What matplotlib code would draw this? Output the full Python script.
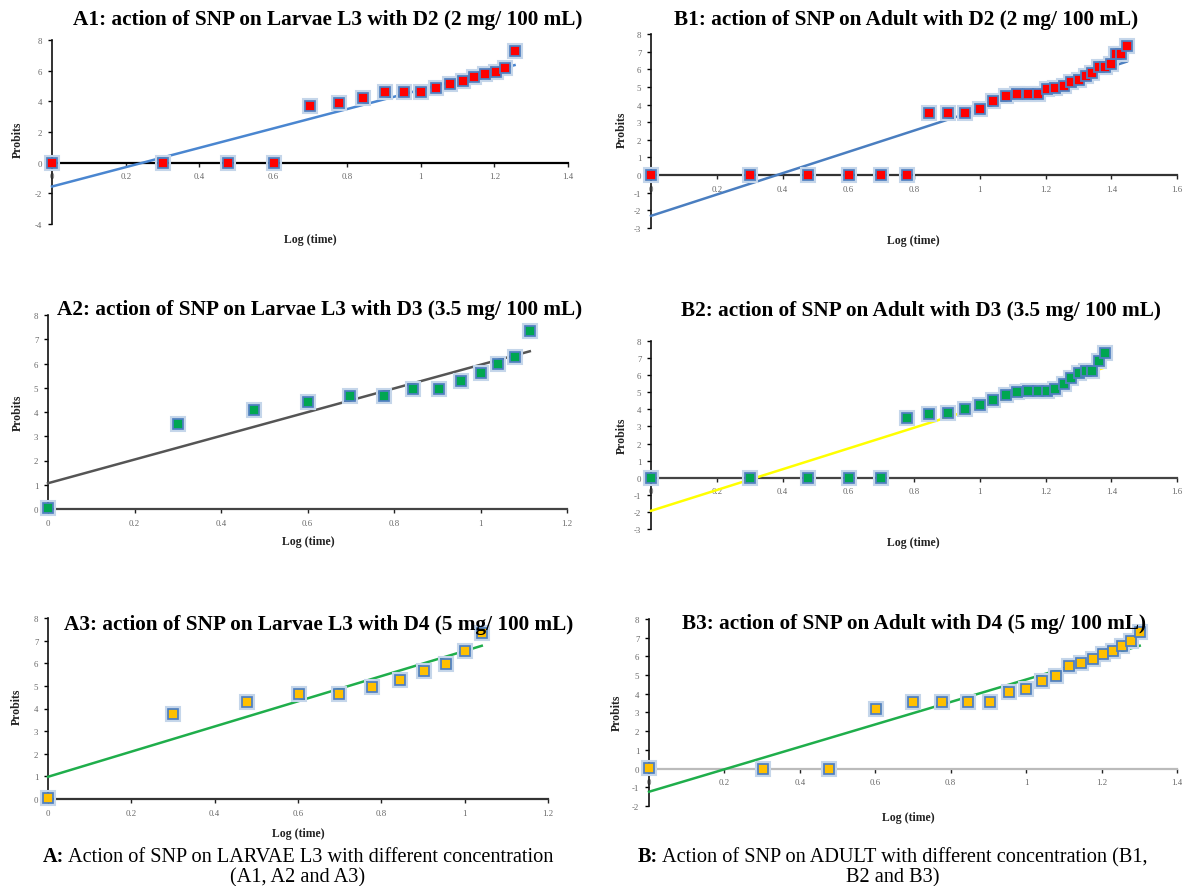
import numpy as np
import matplotlib
matplotlib.use("Agg")
import matplotlib.pyplot as plt

plt.rcParams["axes.unicode_minus"] = False
W, H = 1182, 887

# ---------------- data ----------------
log_time = [0.000, 0.301, 0.477, 0.602, 0.699, 0.778, 0.845, 0.903, 0.954, 1.000,
            1.041, 1.079, 1.114, 1.146, 1.176, 1.204, 1.230, 1.255, 1.279, 1.301,
            1.322, 1.342, 1.362, 1.380, 1.398, 1.415, 1.431, 1.447]

a1_probits = [0, 0, 0, 0, 3.70, 3.90, 4.20, 4.60, 4.60, 4.60, 4.85, 5.10, 5.35,
              5.60, 5.80, 5.90, 6.20, 7.30]
b1_probits = [0, 0, 0, 0, 0, 0, 3.53, 3.53, 3.53, 3.72, 4.20, 4.50, 4.60, 4.60,
              4.60, 4.88, 4.94, 5.07, 5.27, 5.40, 5.64, 5.79, 6.15, 6.15, 6.28,
              6.88, 6.88, 7.30]
a2_probits = [0.05, 3.50, 4.07, 4.41, 4.68, 4.66, 4.93, 4.93, 5.26, 5.60, 5.97,
              6.26, 7.33]
b2_probits = [0, 0, 0, 0, 0, 3.52, 3.75, 3.77, 4.02, 4.27, 4.54, 4.82, 5.00, 5.09,
              5.05, 5.05, 5.18, 5.50, 5.85, 6.10, 6.22, 6.22, 6.82, 7.28]
a3_probits = [0.05, 3.75, 4.28, 4.62, 4.62, 4.96, 5.28, 5.65, 5.98, 6.55, 7.33]
b3_probits = [0.05, 0, 0, 3.19, 3.55, 3.55, 3.55, 3.55, 4.10, 4.27, 4.66, 4.96,
              5.46, 5.67, 5.87, 6.12, 6.29, 6.56, 6.84, 7.33]

titles = [
    "A1: action of SNP on Larvae L3 with D2 (2 mg/ 100 mL)",
    "B1: action of SNP on Adult with D2 (2 mg/ 100 mL)",
    "A2: action of SNP on Larvae L3 with D3 (3.5 mg/ 100 mL)",
    "B2: action of SNP on Adult with D3 (3.5 mg/ 100 mL)",
    "A3: action of SNP on Larvae L3 with D4 (5 mg/ 100 mL)",
    "B3: action of SNP on Adult with D4 (5 mg/ 100 mL)",
]
series = [a1_probits, b1_probits, a2_probits, b2_probits, a3_probits, b3_probits]
x_limits = [(0, 1.4), (0, 1.6), (0, 1.2), (0, 1.6), (0, 1.2), (0, 1.4)]
y_limits = [(-4, 8), (-3, 8), (0, 8), (-3, 8), (0, 8), (-2, 8)]
y_steps = [2, 1, 1, 1, 1, 1]

caption_a_bold = "A:"
caption_a = " Action of SNP on LARVAE L3 with different concentration"
caption_a2 = "(A1, A2 and A3)"
caption_b_bold = "B:"
caption_b = " Action of SNP on ADULT with different concentration (B1,"
caption_b2 = "B2 and B3)"

# ---------------- style / layout ----------------
marker_colors = ["#ff0000", "#ff0000", "#00a651", "#00a651", "#ffc000", "#ffc000"]
line_colors = ["#4a86d0", "#4a7ec0", "#555555", "#ffff00", "#1fae4b", "#1fae4b"]
axis_colors = ["#000000", "#333333", "#444444", "#444444", "#333333", "#bbbbbb"]
# pixel boxes: left, right, top(ymax), bottom(ymin)
boxes = [(52, 568, 41, 225), (651, 1177, 35, 229), (48, 567, 316, 510),
         (651, 1177, 342, 530), (48, 548, 619, 800), (649, 1177, 620, 807)]
title_pos = [(328, 20), (906, 20), (320, 310), (921, 311), (319, 625), (914, 624)]
xlabel_pos = [(310, 240), (913, 241), (308, 542), (913, 543), (298, 834), (908, 818)]
ylabel_pos = [(18, 140), (622, 130), (18, 413), (622, 436), (17, 707), (617, 713)]

serif = ["Liberation Serif", "DejaVu Serif"]
fig = plt.figure(figsize=(W / 100, H / 100), dpi=100)

for i in range(6):
    l, r, t, b = boxes[i]
    ax = fig.add_axes([l / W, 1 - b / H, (r - l) / W, (b - t) / H])
    y = np.array(series[i])
    x = np.array(log_time[:len(y)])
    ax.set_xlim(*x_limits[i])
    ax.set_ylim(*y_limits[i])
    for s in ["top", "right"]:
        ax.spines[s].set_visible(False)
    ax.spines["bottom"].set_position(("data", 0))
    ax.spines["bottom"].set_color(axis_colors[i])
    ax.spines["bottom"].set_linewidth(1.6)
    ax.spines["left"].set_linewidth(1.2)
    ax.spines["left"].set_color("#111111")
    xt = np.round(np.arange(x_limits[i][0], x_limits[i][1] + 0.001, 0.2), 1)
    ax.set_xticks(xt)
    ax.set_xticklabels([f"{v:g}" for v in xt])
    ax.set_yticks(np.arange(y_limits[i][0], y_limits[i][1] + 0.001, y_steps[i]))
    ax.tick_params(axis="both", labelsize=6.3, labelcolor="#666666", length=3,
                   width=1, direction="out", pad=4)
    ax.tick_params(axis="x", colors="#222222", labelcolor="#666666")
    for lab in ax.get_xticklabels() + ax.get_yticklabels():
        lab.set_family(serif)
    ax.patch.set_alpha(0)
    # trend line (least-squares fit of the plotted points)
    k, c = np.polyfit(x, y, 1)
    xx = np.array([0, x.max()])
    ax.plot(xx, k * xx + c, color=line_colors[i], lw=1.8, zorder=3, clip_on=False)
    # markers with halo
    ax.plot(x, y, ls="none", marker="s", ms=9.5, mfc="none", mec="#c5d6ea", mew=1.5,
            zorder=4, clip_on=False)
    ax.plot(x, y, ls="none", marker="s", ms=7.5, mfc=marker_colors[i], mec="#4f7fbf",
            mew=1.3, zorder=5, clip_on=False)

    tx, ty = title_pos[i]
    fig.text(tx / W, 1 - ty / H, titles[i], ha="center", va="center",
             family=serif, weight="bold", fontsize=15.3)
    lx, ly = xlabel_pos[i]
    fig.text(lx / W, 1 - ly / H, "Log (time)", ha="center", va="center",
             family=serif, weight="bold", fontsize=8.5, color="#222222")
    px, py = ylabel_pos[i]
    fig.text(px / W, 1 - py / H, "Probits", ha="center", va="center", rotation=90,
             family=serif, weight="bold", fontsize=8.5, color="#222222")

# captions
CAP = 14.6
def caption(cx, base, bold, rest, size=CAP):
    t1 = fig.text(0, 0, bold, family=serif, weight="bold", fontsize=size)
    t2 = fig.text(0, 0, rest, family=serif, fontsize=size)
    fig.canvas.draw()
    r = fig.canvas.get_renderer()
    w1 = t1.get_window_extent(r).width
    w2 = t2.get_window_extent(r).width
    x0 = cx - (w1 + w2) / 2
    t1.set_position((x0 / W, 1 - base / H))
    t2.set_position(((x0 + w1) / W, 1 - base / H))
    t1.set_va("baseline")
    t2.set_va("baseline")

caption(298, 862, caption_a_bold, caption_a)
fig.text(298 / W, 1 - 882 / H, caption_a2, ha="center", va="baseline", family=serif, fontsize=CAP)
caption(893, 862, caption_b_bold, caption_b)
fig.text(893 / W, 1 - 882 / H, caption_b2, ha="center", va="baseline", family=serif, fontsize=CAP)

fig.savefig("out.png", dpi=100)
